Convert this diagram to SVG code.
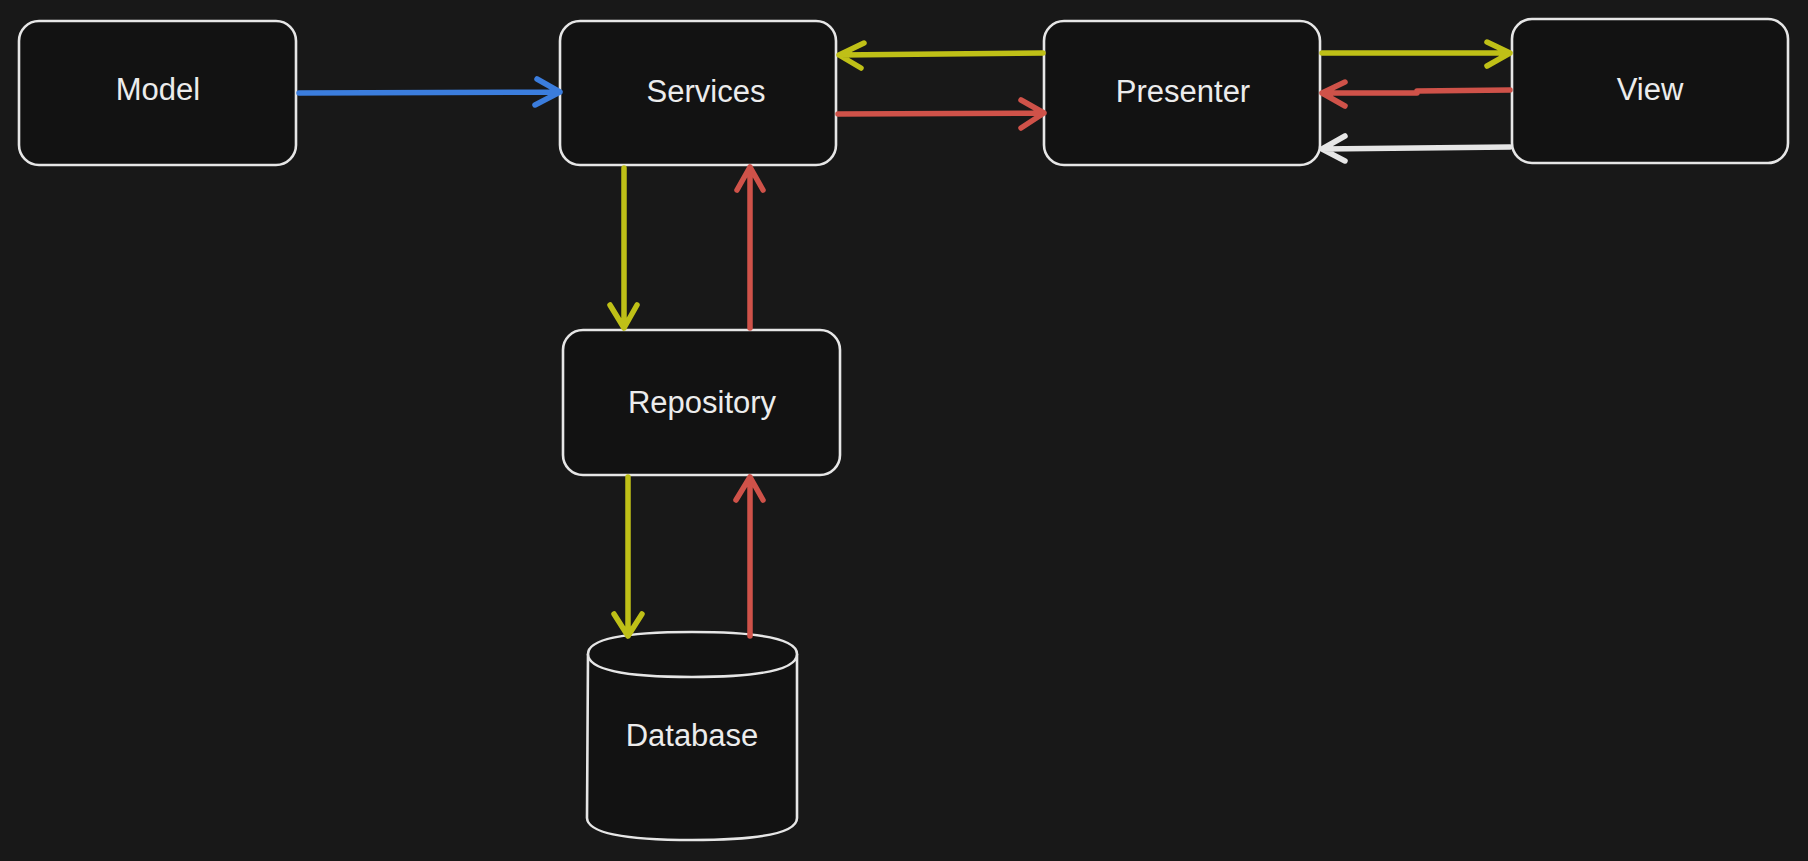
<svg xmlns="http://www.w3.org/2000/svg" width="1808" height="861" viewBox="0 0 1808 861">
<style>
.node{fill:#121212;stroke:#e6e6e6;stroke-width:2.6}
.lbl{font-family:"Liberation Sans",Arial,sans-serif;font-size:31px;fill:#ececec;text-anchor:middle}
.c{fill:none;stroke-width:5.5;stroke-linecap:round;stroke-linejoin:round}
.y{stroke:#bfc017}.r{stroke:#cf5249}.b{stroke:#3b7ddd}.w{stroke:#e6e6e6}
</style>
<rect width="1808" height="861" fill="#181818"/>
<g id="model"><rect class="node" x="19" y="21" width="277" height="144" rx="20"/><text class="lbl" x="158" y="100">Model</text></g>
<g id="services"><rect class="node" x="560" y="21" width="276" height="144" rx="20"/><text class="lbl" x="706" y="102">Services</text></g>
<g id="presenter"><rect class="node" x="1044" y="21" width="276" height="144" rx="20"/><text class="lbl" x="1183" y="102">Presenter</text></g>
<g id="view"><rect class="node" x="1512" y="19" width="276" height="144" rx="20"/><text class="lbl" x="1650" y="100">View</text></g>
<g id="repository"><rect class="node" x="563" y="330" width="277" height="145" rx="20"/><text class="lbl" x="702" y="413">Repository</text></g>
<g id="database">
<path class="node" d="M588 654 L587 818 Q588 840 692 840 Q797 840 797 818 L797 654 Q797 632 692 632 Q588 632 588 654 Z"/>
<path class="node" fill="none" d="M588 654 Q588 677 692 677 Q797 677 797 654"/>
<text class="lbl" x="692" y="746">Database</text>
</g>
<g id="connectors">
<path class="c b" d="M299 93 L560 92 M537 79 L560 92 L535 105"/>
<path class="c y" d="M1043 53 L839 55 M864 43 L839 55 L861 68"/>
<path class="c r" d="M838 114 L1044 113 M1021 100 L1044 113 L1021 128"/>
<path class="c y" d="M1322 53 L1510 53 M1487 42 L1510 53 L1487 66"/>
<path class="c r" d="M1510 90 L1417 91 L1417 93 L1322 93 M1345 82 L1322 93 L1345 106"/>
<path class="c w" d="M1510 147 L1322 149 M1345 136 L1322 149 L1345 161"/>
<path class="c y" d="M624 168 L624 328 M610 305 L624 328 L637 305"/>
<path class="c r" d="M750 328 L750 167 M737 190 L750 167 L763 190"/>
<path class="c y" d="M628 477 L628 636 M614 614 L628 636 L642 614"/>
<path class="c r" d="M750 636 L750 477 M736 500 L750 477 L763 500"/>
</g>
</svg>
